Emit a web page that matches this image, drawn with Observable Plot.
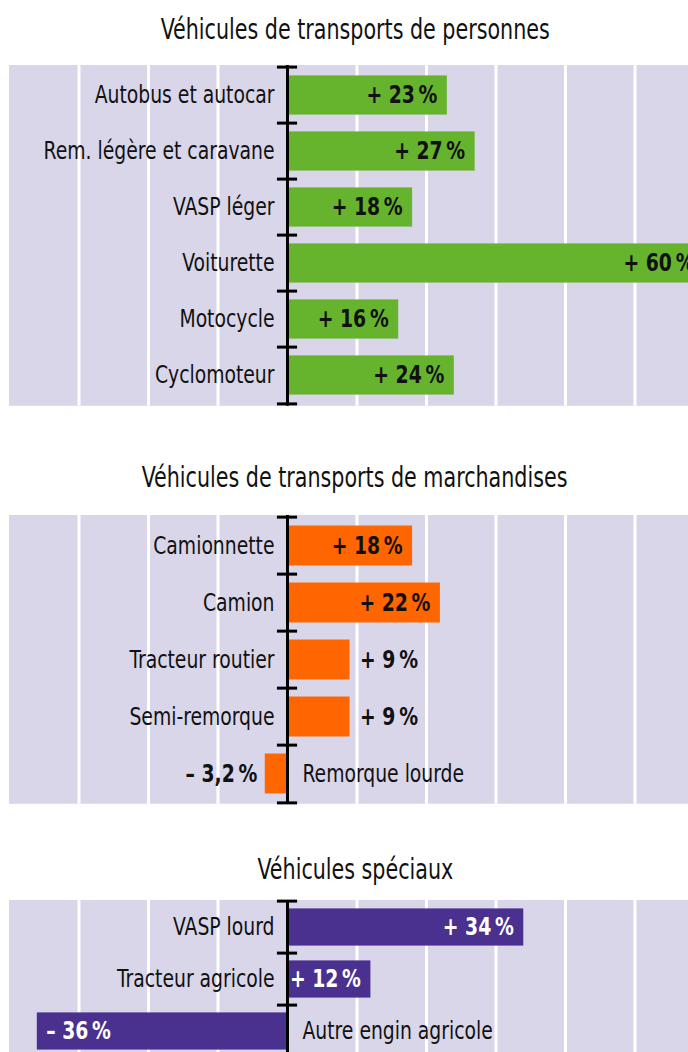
<!DOCTYPE html>
<html>
<head>
<meta charset="utf-8">
<script src="https://cdn.jsdelivr.net/npm/d3@7"></script>
<script src="https://cdn.jsdelivr.net/npm/@observablehq/plot@0.6"></script>
<style>
  html, body { margin: 0; padding: 0; background: white; width: 688px; overflow: hidden; }
  .title {
    font-family: 'DejaVu Sans Condensed', 'DejaVu Sans', sans-serif;
    font-size: 28px; line-height: 30px; text-align: center; color: #111;
    width: 688px; white-space: nowrap; box-sizing: border-box; padding-left: 22px;
  }
  .title span { display: inline-block; transform: scaleX(0.82); transform-origin: 50% 50%; }
  svg { display: block; }
</style>
</head>
<body>
<div id="chart"></div>
<script>
const FONT = "'DejaVu Sans Condensed', 'DejaVu Sans', sans-serif";
const SQUEEZE = 0.87;

const titles = [
  "Véhicules de transports de personnes",
  "Véhicules de transports de marchandises",
  "Véhicules spéciaux"
];

const persCategories = ["Autobus et autocar", "Rem. légère et caravane", "VASP léger", "Voiturette", "Motocycle", "Cyclomoteur"];
const persValues = [23, 27, 18, 60, 16, 24];

const marchCategories = ["Camionnette", "Camion", "Tracteur routier", "Semi-remorque", "Remorque lourde"];
const marchValues = [18, 22, 9, 9, -3.2];

const specCategories = ["VASP lourd", "Tracteur agricole", "Autre engin agricole"];
const specValues = [34, 12, -36];

const gridTicks = [-30, -20, -10, 10, 20, 30, 40, 50, 60];

const fmt = v => (v >= 0 ? "+ " : "– ") + String(Math.abs(v)).replace(".", ",") + "\u202F%";

function squeezeText(svg, k) {
  svg.querySelectorAll("text").forEach(t => {
    const tr = t.getAttribute("transform");
    if (tr) {
      t.setAttribute("transform", tr + ` scale(${k},1)`);
    } else {
      const x = +t.getAttribute("x") || 0, y = +t.getAttribute("y") || 0;
      t.removeAttribute("x"); t.removeAttribute("y");
      t.setAttribute("transform", `translate(${x},${y}) scale(${k},1)`);
    }
  });
  return svg;
}

function panel(cats, vals, color, insideTextColor, bandH, inset) {
  const data = cats.map((c, i) => ({category: c, value: vals[i]}));
  const n = cats.length;
  const mt = 3, mb = 3;
  const h = mt + mb + n * bandH;
  const inside = d => Math.abs(d.value) >= 10;
  const pos = data.filter(d => d.value >= 0);
  const neg = data.filter(d => d.value < 0);
  const svg = Plot.plot({
    width: 688, height: h,
    marginTop: mt, marginBottom: mb, marginLeft: 9, marginRight: 0,
    x: {domain: [-40, 60], range: [9, 704], axis: null},
    y: {domain: cats, padding: 0, axis: null},
    style: {fontFamily: FONT, overflow: "hidden", background: "white"},
    marks: [
      Plot.rect([0], {x1: -40, x2: 70, fill: "#d9d6ea"}),
      Plot.ruleX(gridTicks, {stroke: "white", strokeWidth: 3}),
      Plot.barX(data, {x: "value", y: "category", fill: color, insetTop: inset, insetBottom: inset}),
      Plot.ruleX([0], {stroke: "black", strokeWidth: 3}),
      Plot.ruleY(cats, {y: d => d, x1: -1.45, x2: 1.45, dy: -bandH / 2, stroke: "black", strokeWidth: 3}),
      Plot.ruleY([cats[n - 1]], {y: d => d, x1: -1.45, x2: 1.45, dy: bandH / 2, stroke: "black", strokeWidth: 3}),
      // category labels
      Plot.text(pos, {x: () => 0, y: "category", text: "category", textAnchor: "end", dx: -13, fontSize: 24, fill: "#111"}),
      Plot.text(neg, {x: () => 0, y: "category", text: "category", textAnchor: "start", dx: 15, fontSize: 24, fill: "#111"}),
      // value labels
      Plot.text(pos.filter(inside), {x: "value", y: "category", text: d => fmt(d.value), textAnchor: "end", dx: -10, fontSize: 24, fontWeight: "bold", fill: insideTextColor}),
      Plot.text(pos.filter(d => !inside(d)), {x: "value", y: "category", text: d => fmt(d.value), textAnchor: "start", dx: 10, fontSize: 24, fontWeight: "bold", fill: "#111"}),
      Plot.text(neg.filter(inside), {x: "value", y: "category", text: d => fmt(d.value), textAnchor: "start", dx: 9, fontSize: 24, fontWeight: "bold", fill: insideTextColor}),
      Plot.text(neg.filter(d => !inside(d)), {x: "value", y: "category", text: d => fmt(d.value), textAnchor: "end", dx: -8, fontSize: 24, fontWeight: "bold", fill: "#111"})
    ]
  });
  return squeezeText(svg, SQUEEZE);
}

function titleDiv(text, padTop, padBottom) {
  const div = document.createElement("div");
  div.className = "title";
  const span = document.createElement("span");
  span.textContent = text;
  div.append(span);
  div.style.paddingTop = padTop + "px";
  div.style.paddingBottom = padBottom + "px";
  return div;
}

const root = document.getElementById("chart");
root.append(titleDiv(titles[0], 15, 17));
root.append(panel(persCategories, persValues, "#66b32e", "#111", 56.8, 8.4));
root.append(titleDiv(titles[1], 54.2, 19));
root.append(panel(marchCategories, marchValues, "#ff6600", "#111", 57.75, 8.5));
root.append(titleDiv(titles[2], 48.25, 12));
root.append(panel(specCategories, specValues, "#4a3190", "white", 52.8, 7.4));
</script>
</body>
</html>
